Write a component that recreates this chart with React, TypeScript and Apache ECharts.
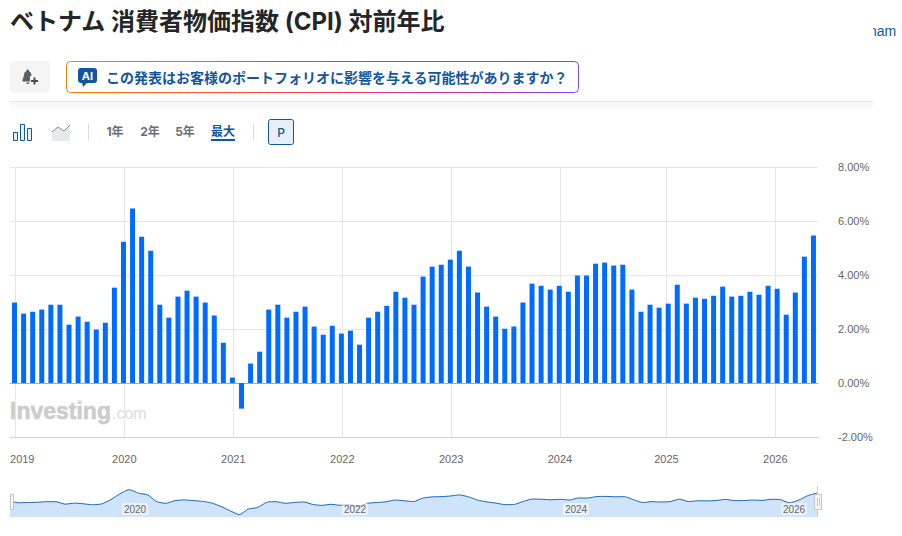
import React, { useEffect, useRef } from "react";
import * as echarts from "echarts";

const months: string[] = [];
for (let y = 2019; y <= 2026; y++) {
  for (let m = 1; m <= 12; m++) {
    if (y === 2026 && m > 5) break;
    months.push(`${y}-${String(m).padStart(2, "0")}`);
  }
}

const cpiValues = [
  2.98, 2.57, 2.64, 2.72, 2.9, 2.9, 2.16, 2.46, 2.27, 1.98, 2.23, 3.53,
  5.23, 6.46, 5.42, 4.9, 2.9, 2.42, 3.2, 3.42, 3.2, 2.98, 2.5, 1.49,
  0.2, -0.95, 0.72, 1.16, 2.72, 2.9, 2.42, 2.64, 2.83, 2.09, 1.79, 2.12,
  1.83, 1.94, 1.42, 2.42, 2.64, 2.86, 3.38, 3.16, 2.9, 3.94, 4.31, 4.38,
  4.57, 4.9, 4.31, 3.35, 2.83, 2.46, 2.01, 2.09, 2.98, 3.68, 3.6, 3.46,
  3.6, 3.38, 3.98, 3.98, 4.42, 4.46, 4.35, 4.38, 3.46, 2.64, 2.9, 2.79,
  2.94, 3.64, 2.94, 3.16, 3.12, 3.23, 3.57, 3.2, 3.23, 3.38, 3.27, 3.6,
  3.49, 2.53, 3.35, 4.68, 5.46,
];

const yearLabels = ["2019", "2020", "2021", "2022", "2023", "2024", "2025", "2026"];
const yearTickMonths = [0.08, 12.09, 24.1, 36.1, 48.1, 60.08, 71.8, 83.8];
const yearLabelMonths = [0.85, 12.09, 24.1, 36.1, 48.1, 60.08, 71.8, 83.8];
const rangeLabels = ["1年", "2年", "5年", "最大"];
const navLabels = ["2020", "2022", "2024", "2026"];

const TITLE = "ベトナム 消費者物価指数 (CPI) 対前年比";
const PROMPT = "この発表はお客様のポートフォリオに影響を与える可能性がありますか？";
const BLUE = "#1256a0";
const CJK = 'Inter, "Noto Sans CJK JP", sans-serif';
const ARIAL = '"Liberation Sans", Arial, sans-serif';

echarts.graphic.registerShape(
  "bellIcon",
  echarts.graphic.extendPath(
    "M7 0.5 C8 0.5 8.6 1.2 8.7 2.2 C10.6 3 11.5 4.6 11.6 6.8 L12.5 11 C12.7 12 12.2 12.6 11.2 12.6 L1.8 12.6 C0.8 12.6 0.3 12 0.6 11 C1.8 8.5 2.2 7.5 2.4 5.8 C2.6 4 3.6 2.8 5.3 2.2 C5.4 1.2 6 0.5 7 0.5 Z M5 13.6 L9 13.6 C8.7 14.8 8 15.3 7 15.3 C6 15.3 5.3 14.8 5 13.6 Z",
    {}
  )
);

export default function App() {
  const ref = useRef<HTMLDivElement>(null);

  useEffect(() => {
    const chart = echarts.init(ref.current!, undefined, { renderer: "svg" });
    const rangeX = [115, 150, 185, 223];

    const graphicEls: any[] = [
      { type: "rect", shape: { x: 900, y: 0, width: 2, height: 536 }, style: { fill: "#fcfcfc" } },
      // clipped text at top right
      { type: "text", x: 869, y: 31, z: 1, style: { text: "nam", font: `14px ${ARIAL}`, fill: BLUE, textVerticalAlign: "middle" } },
      { type: "rect", z: 2, shape: { x: 850, y: 20, width: 23, height: 24 }, style: { fill: "#fff" } },
      { type: "text", x: 10, y: 21, z: 3, style: { text: TITLE, font: `bold 24px ${CJK}`, fill: "#232526", textVerticalAlign: "middle" } },

      // bell button
      { type: "rect", shape: { x: 10, y: 61, width: 40, height: 32, r: 4 }, style: { fill: "#f5f5f5" } },
      { type: "bellIcon", x: 22, y: 69, scaleX: 0.82, scaleY: 1, style: { fill: "#5b6066" } },
      { type: "rect", z: 3, shape: { x: 30, y: 76, width: 10, height: 10 }, style: { fill: "#f5f5f5" } },
      { type: "rect", z: 4, shape: { x: 31, y: 80, width: 7, height: 2 }, style: { fill: "#4a4f55" } },
      { type: "rect", z: 4, shape: { x: 33.5, y: 77.5, width: 2, height: 7 }, style: { fill: "#4a4f55" } },

      // AI prompt box
      {
        type: "rect",
        shape: { x: 66.5, y: 61.5, width: 512, height: 31, r: 4 },
        style: {
          fill: "#fff",
          lineWidth: 1,
          stroke: new echarts.graphic.LinearGradient(0, 0, 1, 0, [
            { offset: 0, color: "#ff7a00" },
            { offset: 0.5, color: "#f23a5c" },
            { offset: 0.75, color: "#d42f9a" },
            { offset: 1, color: "#7a45f5" },
          ]),
        },
      },
      { type: "rect", shape: { x: 78, y: 68, width: 19, height: 15, r: 3 }, style: { fill: BLUE } },
      { type: "polygon", shape: { points: [[82, 82], [88, 82], [83, 87]] }, style: { fill: BLUE } },
      { type: "text", x: 87.5, y: 75.5, style: { text: "AI", font: `bold 11px ${CJK}`, fill: "#fff", textAlign: "center", textVerticalAlign: "middle" } },
      { type: "text", x: 106, y: 77.5, style: { text: PROMPT, font: `bold 14px ${CJK}`, fill: BLUE, textVerticalAlign: "middle" } },

      // divider
      { type: "rect", shape: { x: 10, y: 102, width: 863, height: 10 }, style: { fill: new echarts.graphic.LinearGradient(0, 0, 0, 1, [{ offset: 0, color: "#f6f6f6" }, { offset: 1, color: "#ffffff" }]) } },
      { type: "rect", shape: { x: 10, y: 101, width: 863, height: 1 }, style: { fill: "#e6e6e6" } },

      // chart type icons
      { type: "rect", shape: { x: 13.5, y: 132.5, width: 4, height: 8 }, style: { fill: "#e6eef7", stroke: BLUE, lineWidth: 1 } },
      { type: "rect", shape: { x: 20.5, y: 124.5, width: 4, height: 16 }, style: { fill: "#e6eef7", stroke: BLUE, lineWidth: 1 } },
      { type: "rect", shape: { x: 27.5, y: 128.5, width: 4, height: 12 }, style: { fill: "#e6eef7", stroke: BLUE, lineWidth: 1 } },
      { type: "polygon", shape: { points: [[52, 132], [58, 127], [64, 131], [70, 125], [70, 141], [52, 141]] }, style: { fill: "#e8e9ea" } },
      { type: "polyline", shape: { points: [[52, 132], [58, 127], [64, 131], [70, 125]] }, style: { stroke: "#8a8f95", lineWidth: 1, fill: "none" } },

      // separators
      { type: "rect", shape: { x: 88, y: 124, width: 1, height: 16 }, style: { fill: "#dcdcdc" } },
      { type: "rect", shape: { x: 253, y: 124, width: 1, height: 16 }, style: { fill: "#dcdcdc" } },

      // range selector
      ...rangeLabels.map((t, i) => ({
        type: "text",
        x: rangeX[i],
        y: 131,
        style: {
          text: t,
          font: `bold 12px ${CJK}`,
          fill: i === 3 ? BLUE : "#6a6f75",
          textAlign: "center",
          textVerticalAlign: "middle",
        },
      })),
      { type: "rect", shape: { x: 211, y: 139, width: 24, height: 2 }, style: { fill: BLUE } },

      // P button
      { type: "rect", shape: { x: 268.5, y: 119.5, width: 25, height: 25, r: 2 }, style: { fill: "#e6eef7", stroke: BLUE, lineWidth: 1 } },
      { type: "text", x: 281, y: 132, style: { text: "P", font: `500 12px ${CJK}`, fill: BLUE, textAlign: "center", textVerticalAlign: "middle" } },

      // watermark
      { type: "text", x: 10, y: 411, z: -1, style: { text: "Investing", font: `bold 23px ${ARIAL}`, fill: "#cccccc", stroke: "#cccccc", lineWidth: 0.6, textVerticalAlign: "middle" } },
      { type: "text", x: 112, y: 413, z: -1, style: { text: ".com", font: `16px ${ARIAL}`, fill: "#dcdcdc", textVerticalAlign: "middle" } },
      { type: "rect", z: -1, shape: { x: 78, y: 400, width: 4, height: 2 }, style: { fill: "#fbe6c2" } },

      // navigator labels
      ...navLabels.map((t, i) => ({
        type: "text",
        x: [135, 355, 576, 794][i],
        y: 509,
        z: 5,
        style: {
          text: t,
          font: `10px ${ARIAL}`,
          fill: "#666",
          align: "center",
          verticalAlign: "middle",
          backgroundColor: "rgba(255,255,255,0.55)",
          padding: [1, 2, 1, 2],
          borderRadius: 2,
        },
      })),
      // navigator handles
      { type: "rect", z: 6, shape: { x: 817, y: 486, width: 1, height: 31 }, style: { fill: "#cfcfcf" } },
      { type: "rect", z: 6, shape: { x: 10.5, y: 494.5, width: 3, height: 15 }, style: { fill: "#f4f4f4", stroke: "#c6c6c6", lineWidth: 1 } },
      { type: "rect", z: 6, shape: { x: 814.5, y: 494.5, width: 7, height: 15 }, style: { fill: "#f4f4f4", stroke: "#c6c6c6", lineWidth: 1 } },
      { type: "rect", z: 7, shape: { x: 817, y: 498, width: 0.6, height: 8 }, style: { fill: "#aaa" } },
      { type: "rect", z: 7, shape: { x: 819, y: 498, width: 0.6, height: 8 }, style: { fill: "#aaa" } },
    ];

    chart.setOption({
      animation: false,
      backgroundColor: "#fff",
      grid: [
        { left: 10, width: 808, top: 167, height: 270, containLabel: false },
        { left: 10, width: 807, top: 488, height: 29, containLabel: false },
      ],
      xAxis: [
        {
          type: "category",
          gridIndex: 0,
          data: months,
          position: "bottom",
          axisLine: { show: true, onZero: true, lineStyle: { color: "#aaaaaa", width: 1 } },
          axisTick: { show: false },
          axisLabel: { show: false },
          splitLine: { show: false },
        },
        {
          type: "value",
          gridIndex: 0,
          position: "bottom",
          min: -0.5,
          max: 88.5,
          axisLine: { show: true, onZero: false, lineStyle: { color: "#c9d4e6", width: 1 } },
          axisTick: { show: false, customValues: yearTickMonths },
          axisLabel: {
            show: true,
            customValues: yearLabelMonths,
            formatter: (v: number) => yearLabels[yearLabelMonths.indexOf(v)] ?? "",
            color: "#666",
            fontFamily: "Liberation Sans",
            fontSize: 11,
            margin: 16,
            hideOverlap: false,
          },
          splitLine: { show: true, lineStyle: { color: "#e6e6e6", width: 1 } },
        },
        {
          type: "category",
          gridIndex: 1,
          data: months,
          boundaryGap: false,
          show: false,
        },
      ],
      yAxis: [
        {
          type: "value",
          gridIndex: 0,
          position: "right",
          min: -2,
          max: 8,
          interval: 2,
          axisLine: { show: false },
          axisTick: { show: false },
          axisLabel: {
            formatter: (v: number) => `${v.toFixed(2)}%`,
            color: "#666",
            fontFamily: "Liberation Sans",
            fontSize: 11,
            margin: 20,
          },
          splitLine: { show: true, lineStyle: { color: "#e6e6e6", width: 1 } },
        },
        {
          type: "value",
          gridIndex: 1,
          min: -1.65,
          max: 6.95,
          show: false,
          splitLine: { show: false },
        },
      ],
      series: [
        {
          type: "bar",
          xAxisIndex: 0,
          yAxisIndex: 0,
          data: cpiValues,
          barWidth: 5,
          itemStyle: { color: "#006cff" },
        },
        {
          type: "line",
          xAxisIndex: 2,
          yAxisIndex: 1,
          data: cpiValues,
          showSymbol: false,
          smooth: 0.2,
          lineStyle: { color: "#1a66b0", width: 1 },
          areaStyle: { color: "#cfe3fb", opacity: 1, origin: "start" },
        },
      ],
      graphic: { elements: graphicEls },
    });

    return () => chart.dispose();
  }, []);

  return (
    <div
      ref={ref}
      style={{ position: "absolute", left: 0, top: 0, width: 902, height: 536, overflow: "hidden" }}
    />
  );
}
